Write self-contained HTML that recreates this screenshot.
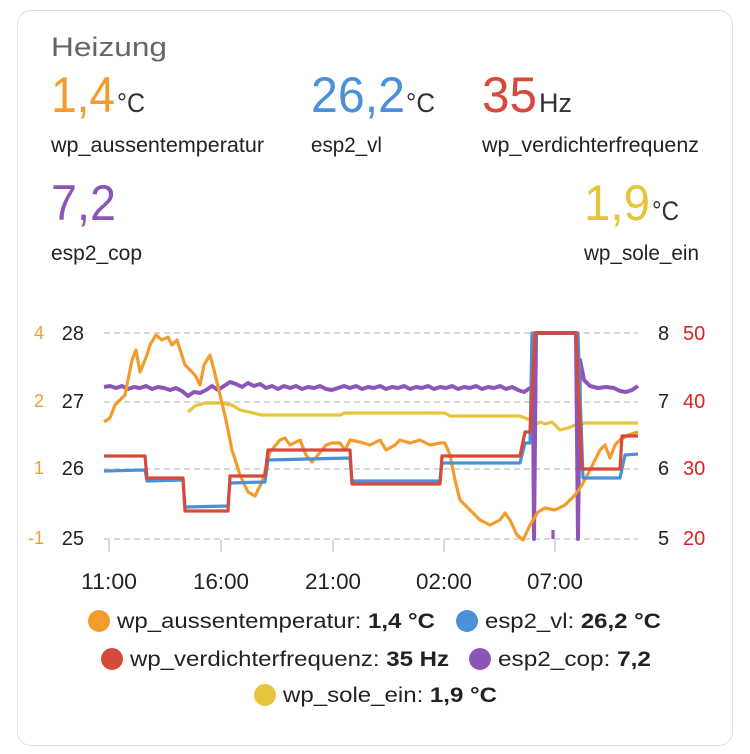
<!DOCTYPE html>
<html><head><meta charset="utf-8"><style>
body{margin:0;background:#fff;width:750px;height:754px;overflow:hidden;font-family:"Liberation Sans",sans-serif}
.card{position:absolute;left:17px;top:10px;width:716px;height:736px;border:1.5px solid #e0e0e0;border-radius:14px;box-sizing:border-box}
</style></head><body>
<div class="card"></div>
<svg style="position:absolute;left:0;top:0" width="750" height="754" font-family="Liberation Sans, sans-serif" font-size="18">
<text x="51" y="56" font-size="27" fill="#666" textLength="116" lengthAdjust="spacingAndGlyphs">Heizung</text>
<g font-size="50">
<text x="51" y="112" fill="#f39c2e" textLength="64" lengthAdjust="spacingAndGlyphs">1,4</text>
<text x="311" y="112" fill="#4b90d8" textLength="94" lengthAdjust="spacingAndGlyphs">26,2</text>
<text x="482" y="112" fill="#d64a3c" textLength="55" lengthAdjust="spacingAndGlyphs">35</text>
<text x="51" y="220" fill="#8e55b8" textLength="65" lengthAdjust="spacingAndGlyphs">7,2</text>
<text x="584" y="220" fill="#e6c53a" textLength="66" lengthAdjust="spacingAndGlyphs">1,9</text>
</g>
<g font-size="27" fill="#333">
<text x="117" y="112" textLength="28" lengthAdjust="spacingAndGlyphs">°C</text>
<text x="406" y="112" textLength="29" lengthAdjust="spacingAndGlyphs">°C</text>
<text x="539" y="112" textLength="33" lengthAdjust="spacingAndGlyphs">Hz</text>
<text x="652" y="220" textLength="27" lengthAdjust="spacingAndGlyphs">°C</text>
</g>
<g font-size="21" fill="#222">
<text x="51" y="152" textLength="213" lengthAdjust="spacingAndGlyphs">wp_aussentemperatur</text>
<text x="311" y="152" textLength="71" lengthAdjust="spacingAndGlyphs">esp2_vl</text>
<text x="482" y="152" textLength="217" lengthAdjust="spacingAndGlyphs">wp_verdichterfrequenz</text>
<text x="51" y="260" textLength="91" lengthAdjust="spacingAndGlyphs">esp2_cop</text>
<text x="584" y="260" textLength="115" lengthAdjust="spacingAndGlyphs">wp_sole_ein</text>
</g>
<g stroke="#ccc" stroke-dasharray="6,4" stroke-width="1.5">
<line x1="104" x2="638" y1="333" y2="333"/><line x1="104" x2="638" y1="402" y2="402"/>
<line x1="104" x2="638" y1="469" y2="469"/><line x1="104" x2="638" y1="539" y2="539"/>
</g>
<g stroke="#ccc" stroke-width="1.5">
<line x1="109" x2="109" y1="540" y2="552"/><line x1="221" x2="221" y1="540" y2="552"/><line x1="333" x2="333" y1="540" y2="552"/><line x1="444" x2="444" y1="540" y2="552"/><line x1="555" x2="555" y1="540" y2="552"/>
</g>
<g fill="#f39c2e" text-anchor="end"><text x="44" y="339">4</text><text x="44" y="407">2</text><text x="44" y="474">1</text><text x="44" y="544">-1</text></g>
<g fill="#222" text-anchor="end" font-size="20"><text x="84" y="340">28</text><text x="84" y="408">27</text><text x="84" y="475">26</text><text x="84" y="545">25</text></g>
<g fill="#222" font-size="20"><text x="658" y="340">8</text><text x="658" y="408">7</text><text x="658" y="475">6</text><text x="658" y="545">5</text></g>
<g fill="#e02020" font-size="20"><text x="683" y="340">50</text><text x="683" y="408">40</text><text x="683" y="475">30</text><text x="683" y="545">20</text></g>
<g fill="#222" text-anchor="middle" font-size="22"><text x="109" y="589" textLength="56" lengthAdjust="spacingAndGlyphs">11:00</text><text x="221" y="589" textLength="56" lengthAdjust="spacingAndGlyphs">16:00</text><text x="333" y="589" textLength="56" lengthAdjust="spacingAndGlyphs">21:00</text><text x="444" y="589" textLength="56" lengthAdjust="spacingAndGlyphs">02:00</text><text x="555" y="589" textLength="56" lengthAdjust="spacingAndGlyphs">07:00</text></g>
<g fill="none" stroke-width="3.2" stroke-linejoin="round">
<polyline stroke="#e6c53a" points="188,412 195,406 205,403 220,403 232,405 240,410 262,415 340,415 345,413 445,413 450,416 520,416 530,420 535,425 540,422 545,424 552,422 560,430 568,428 575,425 585,423 638,423"/>
<polyline stroke="#8e55b8" stroke-width="4" points="104,387 110,386 116,388 122,386 128,389 134,387 140,388 146,386 152,389 158,387 164,388 170,390 176,388 182,391 188,396 194,392 200,393 206,390 212,386 218,390 224,386 230,382 236,384 242,387 248,383 254,386 260,384 266,388 272,386 278,389 284,386 290,388 296,386 302,389 308,387 314,388 320,386 326,389 332,390 338,388 344,386 350,388 356,386 362,389 368,387 374,388 380,386 386,389 392,387 398,388 404,386 410,389 416,387 422,388 428,386 434,389 440,387 446,388 452,386 458,389 464,387 470,388 476,386 482,389 488,387 494,388 500,386 506,389 512,387 518,390 524,392 530,388 533,388 534,539 536,333 576,333 578,539 580,360 584,380 590,386 598,388 606,387 614,388 620,391 626,392 632,390 638,386"/>
<line x1="553" y1="530" x2="553" y2="539" stroke="#8e55b8"/>
<polyline stroke="#f39c2e" points="104,422 110,418 115,405 125,395 132,360 136,350 140,372 147,355 150,345 156,335 162,340 168,337 172,345 177,340 185,365 195,375 200,385 204,365 210,355 214,370 220,395 226,420 232,450 240,475 248,492 255,496 262,482 270,452 280,440 285,438 290,445 300,440 306,455 312,462 318,455 326,445 332,443 340,443 345,450 350,440 360,442 370,445 380,440 386,450 395,445 400,440 410,443 420,440 430,445 440,443 445,443 450,455 455,480 460,500 470,510 480,520 490,525 500,520 505,513 510,520 517,535 523,540 530,525 538,512 545,508 555,510 565,505 575,495 582,485 590,470 600,450 605,445 610,458 615,445 620,440 628,435 638,432"/>
<polyline stroke="#4b90d8" points="104,471 145,470 147,481 183,480 185,507 228,506 230,483 265,482 268,460 350,458 352,481 440,481 442,463 520,463 525,443 530,443 532,333 578,333 583,478 620,478 625,455 638,454"/>
<polyline stroke="#d64a3c" points="104,456 145,456 147,478 183,478 185,511 228,511 230,476 265,476 268,450 350,450 352,484 440,484 442,456 520,456 525,432 530,432 535,333 576,333 582,469 620,469 622,436 638,436"/>
</g>
<g font-size="21" fill="#222">
<circle cx="99" cy="621" r="11" fill="#f39c2e"/><text x="117" y="628" textLength="318" lengthAdjust="spacingAndGlyphs">wp_aussentemperatur: <tspan font-weight="bold">1,4 °C</tspan></text>
<circle cx="467" cy="621" r="11" fill="#4b90d8"/><text x="485" y="628" textLength="176" lengthAdjust="spacingAndGlyphs">esp2_vl: <tspan font-weight="bold">26,2 °C</tspan></text>
<circle cx="112" cy="659" r="11" fill="#d64a3c"/><text x="130" y="666" textLength="319" lengthAdjust="spacingAndGlyphs">wp_verdichterfrequenz: <tspan font-weight="bold">35 Hz</tspan></text>
<circle cx="480" cy="659" r="11" fill="#8e55b8"/><text x="498" y="666" textLength="153" lengthAdjust="spacingAndGlyphs">esp2_cop: <tspan font-weight="bold">7,2</tspan></text>
<circle cx="265" cy="695" r="11" fill="#e6c53a"/><text x="283" y="702" textLength="214" lengthAdjust="spacingAndGlyphs">wp_sole_ein: <tspan font-weight="bold">1,9 °C</tspan></text>
</g>
</svg>
</body></html>
